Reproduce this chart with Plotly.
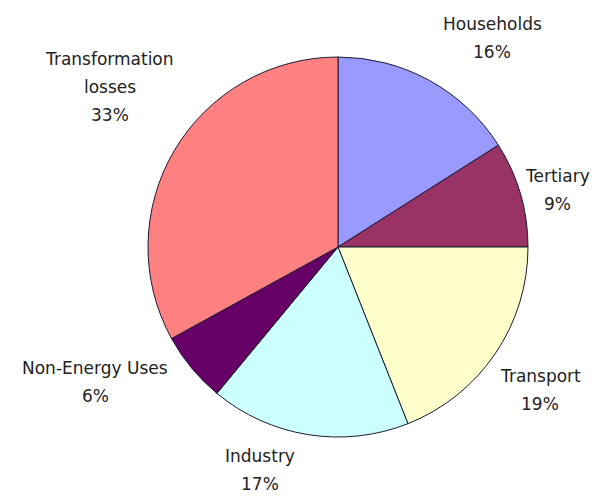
import plotly.graph_objects as go

categories = ["Households", "Tertiary", "Transport", "Industry", "Non-Energy Uses", "Transformation losses"]
values = [16, 9, 19, 17, 6, 33]
colors = ["#9999FF", "#993366", "#FFFFCC", "#CCFFFF", "#660066", "#FF8080"]
label_lines = [["Households"], ["Tertiary"], ["Transport"], ["Industry"], ["Non-Energy Uses"], ["Transformation", "losses"]]
# label block centres in pixels (layout only)
label_pos = [(492, 38), (557, 190), (540, 390), (260, 470), (95, 382), (110, 87)]

W, H = 604, 496
cx, cy, r = 338, 247, 190

fig = go.Figure(go.Pie(
    labels=categories, values=values, sort=False, direction="clockwise", rotation=0,
    marker=dict(colors=colors, line=dict(color="#1a1a33", width=1)),
    textinfo="none", hoverinfo="label+percent", showlegend=False,
    domain=dict(x=[(cx - r) / W, (cx + r) / W], y=[1 - (cy + r) / H, 1 - (cy - r) / H]),
))

total = sum(values)
ann = []
spacing = 28
for lines, v, (px, py) in zip(label_lines, values, label_pos):
    all_lines = lines + [f"{round(100 * v / total)}%"]
    n = len(all_lines)
    for i, t in enumerate(all_lines):
        yy = py + (i - (n - 1) / 2) * spacing
        ann.append(dict(x=px / W, y=1 - yy / H, xref="paper", yref="paper", text=t, showarrow=False,
                        xanchor="center", yanchor="middle",
                        font=dict(family="DejaVu Sans", size=17, color="#222222")))

fig.update_layout(width=W, height=H, margin=dict(l=0, r=0, t=0, b=0),
                  paper_bgcolor="white", plot_bgcolor="white", annotations=ann)
fig.write_html("out.html")
